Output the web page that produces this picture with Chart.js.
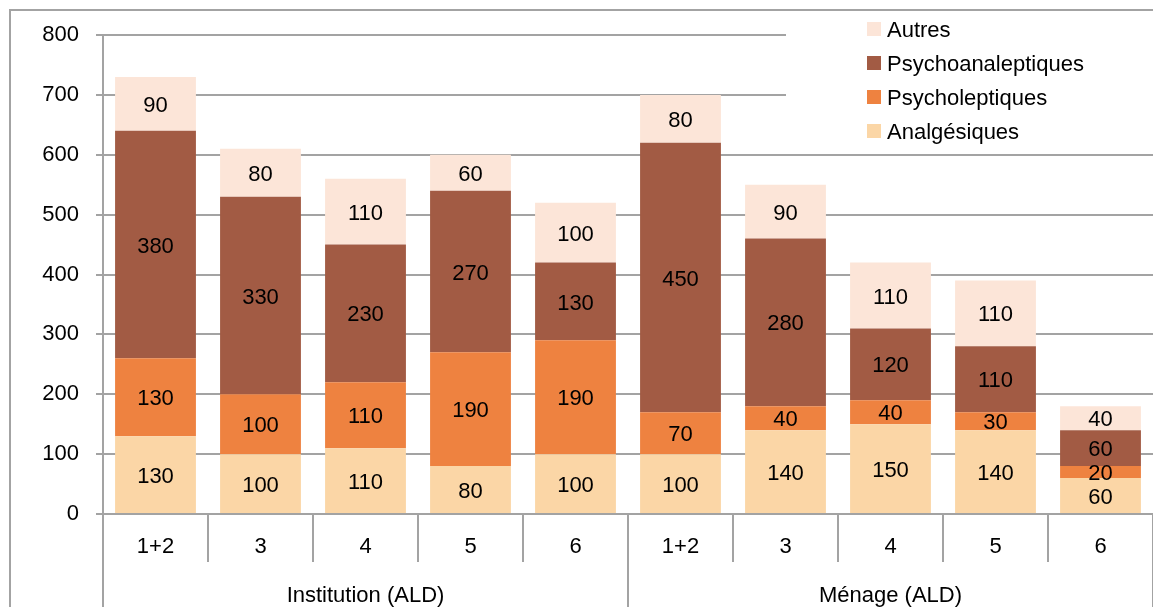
<!DOCTYPE html>
<html>
<head>
<meta charset="utf-8">
<script src="https://cdn.jsdelivr.net/npm/chart.js@4.4.1/dist/chart.umd.min.js"></script>
<style>
  html, body { margin: 0; padding: 0; background: #fff; overflow: hidden; }
  #wrap { position: relative; width: 1153px; height: 607px; }
</style>
</head>
<body>
<div id="wrap"><canvas id="chart" width="1153" height="607"></canvas></div>
<script>
var categories = ["1+2", "3", "4", "5", "6", "1+2", "3", "4", "5", "6"];
var groups = ["Institution (ALD)", "Ménage (ALD)"];
var groupSize = 5;

var analgesiques      = [130, 100, 110,  80, 100, 100, 140, 150, 140, 60];
var psycholeptiques   = [130, 100, 110, 190, 190,  70,  40,  40,  30, 20];
var psychoanaleptiques= [380, 330, 230, 270, 130, 450, 280, 120, 110, 60];
var autres            = [ 90,  80, 110,  60, 100,  80,  90, 110, 110, 40];

var yTicks = [0, 100, 200, 300, 400, 500, 600, 700, 800];

var FONT = "'Liberation Sans', Arial, sans-serif";
var GRID = '#a3a3a3';

var chartData = {
  labels: categories,
  datasets: [
    { label: 'Analgésiques', data: analgesiques, backgroundColor: '#fbd6a6' },
    { label: 'Psycholeptiques', data: psycholeptiques, backgroundColor: '#ee8240' },
    { label: 'Psychoanaleptiques', data: psychoanaleptiques, backgroundColor: '#a25b44' },
    { label: 'Autres', data: autres, backgroundColor: '#fce5d8' }
  ]
};

// frame, category separators, group labels, value labels, legend
var decorations = {
  id: 'decorations',
  beforeDraw: function (chart) {
    var ctx = chart.ctx;
    ctx.save();
    ctx.strokeStyle = GRID;
    ctx.lineWidth = 2;
    ctx.beginPath();
    ctx.moveTo(10, 700);
    ctx.lineTo(10, 10);
    ctx.lineTo(1300, 10);
    ctx.stroke();
    ctx.restore();
  },
  afterDraw: function (chart) {
    var ctx = chart.ctx;
    var x = chart.scales.x;
    var area = chart.chartArea;
    var half = (x.getPixelForValue(1) - x.getPixelForValue(0)) / 2;
    ctx.save();
    ctx.strokeStyle = GRID;
    ctx.lineWidth = 2;
    for (var i = 0; i <= categories.length; i++) {
      var px = Math.round(x.getPixelForValue(i) - half);
      var isGroup = i % groupSize === 0;
      ctx.beginPath();
      ctx.moveTo(px, area.bottom);
      ctx.lineTo(px, isGroup ? 700 : area.bottom + 48);
      ctx.stroke();
    }
    ctx.fillStyle = '#000';
    ctx.font = '22px ' + FONT;
    ctx.textAlign = 'center';
    ctx.textBaseline = 'middle';
    groups.forEach(function (g, gi) {
      var a = x.getPixelForValue(gi * groupSize) - half;
      var b = x.getPixelForValue(gi * groupSize + groupSize - 1) + half;
      ctx.fillText(g, (a + b) / 2, area.bottom + 82);
    });

    // value labels inside each segment
    chart.data.datasets.forEach(function (ds, di) {
      chart.getDatasetMeta(di).data.forEach(function (bar, i) {
        var p = bar.getProps(['x', 'y', 'base'], true);
        ctx.fillText(String(ds.data[i]), p.x, (p.y + p.base) / 2 + 2);
      });
    });

    // legend box (reverse order)
    ctx.fillStyle = '#fff';
    ctx.fillRect(786, 12, 400, 136);
    var items = chart.data.datasets.slice().reverse();
    ctx.textAlign = 'left';
    items.forEach(function (ds, k) {
      var cy = 29 + k * 34;
      ctx.fillStyle = ds.backgroundColor;
      ctx.fillRect(867, cy - 7, 14, 14);
      ctx.fillStyle = '#000';
      ctx.fillText(ds.label, 887, cy + 2);
    });
    ctx.restore();
  }
};

new Chart(document.getElementById('chart'), {
  type: 'bar',
  data: chartData,
  plugins: [decorations],
  options: {
    responsive: false,
    animation: false,
    layout: { padding: { top: 35, right: 0, left: 0, bottom: 0 } },
    datasets: { bar: { categoryPercentage: 1, barPercentage: 0.77 } },
    plugins: { legend: { display: false }, tooltip: { enabled: false } },
    scales: {
      x: {
        stacked: true,
        offset: true,
        grid: { display: false, drawTicks: false },
        border: { display: false },
        ticks: { color: '#000', font: { family: FONT, size: 22 }, padding: 20, maxRotation: 0 },
        afterFit: function (s) { s.height = 93; }
      },
      y: {
        stacked: true,
        min: 0,
        max: 800,
        afterBuildTicks: function (s) { s.ticks = yTicks.map(function (v) { return { value: v }; }); },
        grid: { color: GRID, lineWidth: 2, tickLength: 7 },
        border: { display: true, color: GRID, width: 2 },
        ticks: { color: '#000', font: { family: FONT, size: 22 }, padding: 17 },
        afterFit: function (s) { s.width = 103; }
      }
    }
  }
});
</script>
</body>
</html>
